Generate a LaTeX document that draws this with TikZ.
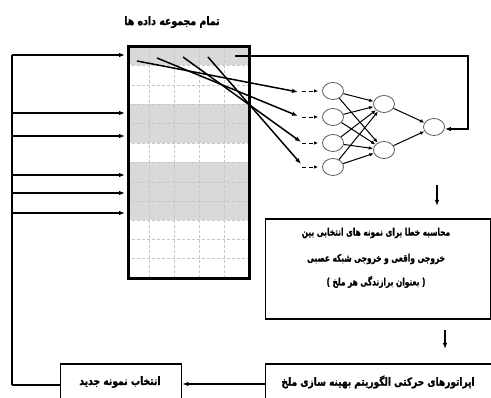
\documentclass[tikz,border=0pt]{standalone}
\usepackage{fontspec}
\newfontfamily\fa[Script=Arabic,BoldFeatures={FakeBold=1.2}]{DejaVu Sans}
\TeXXeTstate=1
\usetikzlibrary{arrows.meta,shapes.geometric}
\newcommand{\fatxt}[2][1.25]{\scalebox{1}[#1]{\beginR #2\endR}}
\begin{document}
\begin{tikzpicture}[x=1pt,y=-1pt,
  arr/.style={-{Latex[length=6pt,width=4.5pt]}, line width=1.5pt},
  thinarr/.style={-{Latex[length=4.5pt,width=3.6pt]}, line width=1pt},
  neuron/.style={ellipse,draw=gray!70!black,line width=0.8pt,minimum width=21pt,minimum height=17pt,inner sep=0pt},
  fatext/.style={inner sep=0pt, font=\fa\bfseries\fontsize{#1}{#1}\selectfont},
  gridline/.style={gray!45, dash pattern=on 3pt off 2pt, line width=0.6pt},
  boxstyle/.style={draw, line width=1.8pt, anchor=north west, inner sep=0pt}]
\useasboundingbox (0,0) rectangle (491,398);
\clip (0,0) rectangle (491,398);

% title
\node[fatext=9.4] (title) at (172,22) {\fatxt{تمام مجموعه داده ها}};

% grid of data
\fill[gray!30] (127,45) rectangle (248,65);
\fill[gray!30] (127,104) rectangle (248,143);
\fill[gray!30] (127,162) rectangle (248,220);
\foreach \y in {65,85,104,123,143,162,182,201,220,239,258}
  \draw[gridline] (127,\y) -- (248,\y);
\foreach \x in {149,174,199,224}
  \draw[gridline] (\x,45) -- (\x,277);
\node[draw, line width=3.2pt, minimum width=121pt, minimum height=232pt, anchor=north west, inner sep=0pt] (data) at (127,45) {};

% left bus and arrows into the data
\coordinate (bustop) at (12,55);
\coordinate (busbot) at (12,385);
\draw[line width=1.5pt] (bustop) -- (busbot);
\foreach \y in {55,113,136,175,193,213}
  \draw[arr, shorten >=2pt] (12,\y) -- (data.west |- 0,\y);

% neural network
\node[neuron] (i1) at (333,91) {};
\node[neuron] (i2) at (333,117) {};
\node[neuron] (i3) at (333,143) {};
\node[neuron] (i4) at (333,167) {};
\node[neuron] (h1) at (384,104) {};
\node[neuron] (h2) at (384,150) {};
\node[neuron] (o) at (434,127) {};

% samples from the top row to the inputs
\coordinate (s1) at (137,61);
\coordinate (s2) at (157,58);
\coordinate (s3) at (183,57);
\coordinate (s4) at (208,57);
\coordinate (e1) at (298,92);
\coordinate (e2) at (298,116);
\coordinate (e3) at (301,142);
\coordinate (e4) at (301,164);
\draw[arr] (s1) -- (e1);
\draw[arr] (s2) -- (e2);
\draw[arr] (s3) -- (e3);
\draw[arr] (s4) -- (e4);
\foreach \n/\y in {1/91,2/117,3/143,4/167}
  \draw[-{Latex[length=4pt,width=3.4pt]}, line width=0.8pt, dash pattern=on 4pt off 2.5pt, shorten >=4pt] (302,\y) -- (i\n.west);

\foreach \a in {i1,i2,i3,i4}
  \foreach \b in {h1,h2}
    \draw[thinarr] (\a) -- (\b);
\draw[thinarr] (h1) -- (o);
\draw[thinarr] (h2) -- (o);

% feedback line
\coordinate (fb0) at (235,56);
\coordinate (fb1) at (468,56);
\coordinate (fb2) at (468,129);
\draw[arr] (fb0) -- (fb1) -- (fb2) -- (o.east |- fb2);

% error box
\coordinate (d1a) at (437,185);
\coordinate (d1b) at (437,206);
\draw[arr] (d1a) -- (d1b);
\node[boxstyle, minimum width=225pt, minimum height=100pt] (err) at (264.5,218.5) {};
\node[fatext=7.4] (t1) at (376,233) {\fatxt[1.4]{محاسبه خطا برای نمونه های انتخابی بین}};
\node[fatext=7.4] (t2) at (376,259) {\fatxt[1.4]{خروجی واقعی و خروجی شبکه عصبی}};
\node[fatext=7.4] (t3) at (376,282) {\fatxt[1.4]{( بعنوان برازندگی  هر ملخ )}};

\coordinate (d2a) at (445,330);
\coordinate (d2b) at (445,349);
\draw[arr] (d2a) -- (d2b);

% bottom boxes
\node[boxstyle, minimum width=240pt, minimum height=50pt] (ops) at (264.5,363.5) {};
\node[fatext=9] (opst) at (378,382) {\fatxt{اپراتورهای حرکتی الگوریتم بهینه سازی ملخ}};
\node[boxstyle, minimum width=121pt, minimum height=50pt] (sel) at (59.5,363.5) {};
\node[fatext=9.2] (selt) at (120,382) {\fatxt{انتخاب نمونه جدید}};
\draw[arr] (ops.west |- 0,384) -- (sel.east |- 0,384);
\draw[line width=1.5pt] (sel.west |- busbot) -- (busbot);
\end{tikzpicture}
\end{document}
